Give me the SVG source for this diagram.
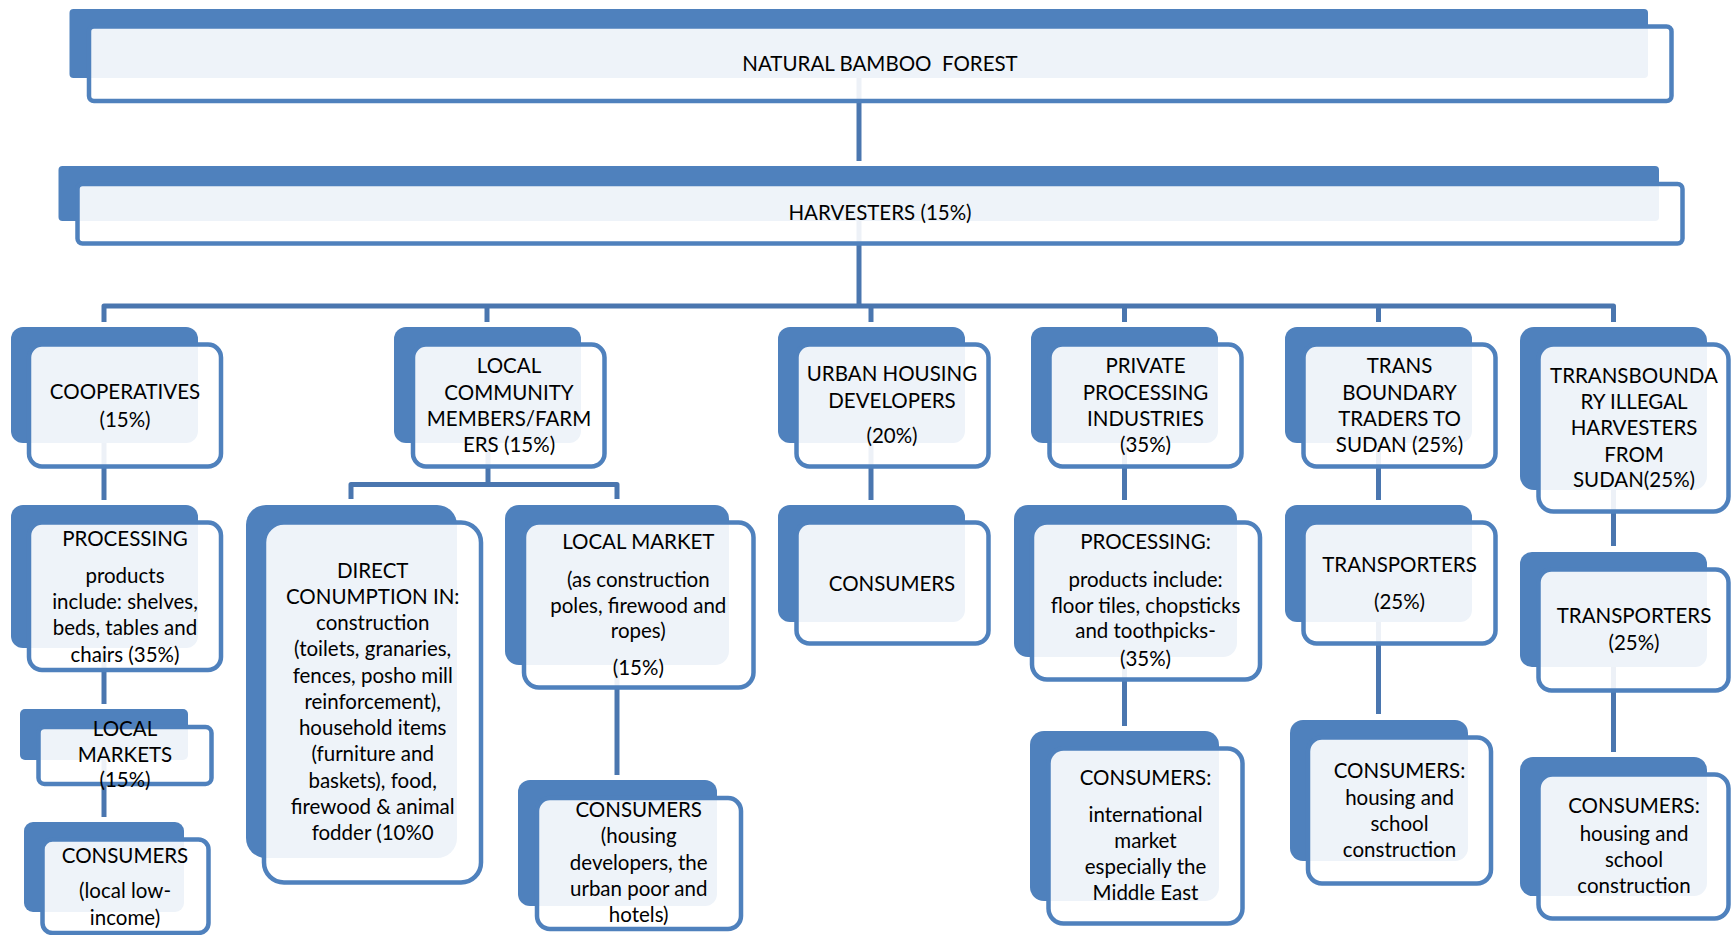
<svg xmlns="http://www.w3.org/2000/svg" width="1731" height="935" viewBox="0 0 1731 935">
<style>
.bk{fill:#4F81BD}
.fr{fill:#FFFFFF;fill-opacity:0.9;stroke:#4F81BD;stroke-width:4.5}
.t{font-family:Lato,"Open Sans","Liberation Sans",sans-serif;font-size:20.5px;fill:#000;text-anchor:middle}
.c{stroke:#4A76AF;stroke-width:5;fill:none;stroke-linejoin:round}
</style>
<rect width="1731" height="935" fill="#FFFFFF"/>
<g id="connectors">
<path class="c" d="M859 78 V161"/>
<path class="c" d="M859 221 V306"/>
<path class="c" d="M104 322 V306 H1613.5 V322"/>
<path class="c" d="M487 306 V322"/>
<path class="c" d="M871 306 V322"/>
<path class="c" d="M1124.5 306 V322"/>
<path class="c" d="M1378.5 306 V322"/>
<path class="c" d="M104 443 V500"/>
<path class="c" d="M104 648 V704"/>
<path class="c" d="M104 760 V817"/>
<path class="c" d="M488 443 V484.5"/>
<path class="c" d="M351 499 V484.5 H617 V499"/>
<path class="c" d="M617 665 V775"/>
<path class="c" d="M871 443 V500"/>
<path class="c" d="M1124.5 443 V500"/>
<path class="c" d="M1124.5 657 V726"/>
<path class="c" d="M1378.5 443 V500"/>
<path class="c" d="M1378.5 622 V714"/>
<path class="c" d="M1613.5 490 V546"/>
<path class="c" d="M1613.5 667 V752"/>
</g>
<g id="n_forest">
<rect class="bk" x="69.5" y="9" width="1578.5" height="69" rx="4"/>
<rect class="fr" x="89" y="26.5" width="1582.5" height="74.5" rx="5"/>
<text class="t" x="880" y="70.5">NATURAL BAMBOO&#160; FOREST</text>
</g>
<g id="n_harvesters">
<rect class="bk" x="58.5" y="166" width="1600.5" height="55" rx="4"/>
<rect class="fr" x="77.5" y="184" width="1605" height="59.5" rx="5"/>
<text class="t" x="880" y="220">HARVESTERS (15%)</text>
</g>
<g id="n_coop">
<rect class="bk" x="11" y="327" width="187" height="116" rx="12"/>
<rect class="fr" x="29" y="344.5" width="192" height="122" rx="13"/>
<text class="t"><tspan x="125" y="399.3">COOPERATIVES</tspan><tspan x="125" y="426.7">(15%)</tspan></text>
</g>
<g id="n_proc_left">
<rect class="bk" x="11" y="505" width="187" height="143" rx="12"/>
<rect class="fr" x="29" y="522.5" width="192" height="147.5" rx="13"/>
<text class="t"><tspan x="125" y="546">PROCESSING</tspan><tspan x="125" y="583.3">products</tspan><tspan x="125" y="609">include: shelves,</tspan><tspan x="125" y="635">beds, tables and</tspan><tspan x="125" y="661.7">chairs (35%)</tspan></text>
</g>
<g id="n_localmarkets">
<rect class="bk" x="20" y="709" width="168" height="51" rx="5"/>
<rect class="fr" x="38.5" y="727" width="173" height="57" rx="6"/>
<text class="t"><tspan x="125" y="736">LOCAL</tspan><tspan x="125" y="761.7">MARKETS</tspan><tspan x="125" y="787.3">(15%)</tspan></text>
</g>
<g id="n_consumers_low">
<rect class="bk" x="24" y="822" width="160" height="90" rx="9"/>
<rect class="fr" x="42.5" y="839.5" width="166" height="93.5" rx="10"/>
<text class="t"><tspan x="125" y="863">CONSUMERS</tspan><tspan x="125" y="898">(local low-</tspan><tspan x="125" y="925">income)</tspan></text>
</g>
<g id="n_localcomm">
<rect class="bk" x="394" y="327" width="187" height="116" rx="12"/>
<rect class="fr" x="413" y="344.5" width="191.5" height="122" rx="13"/>
<text class="t"><tspan x="509" y="373.3">LOCAL</tspan><tspan x="509" y="400">COMMUNITY</tspan><tspan x="509" y="426">MEMBERS/FARM</tspan><tspan x="509" y="451.7">ERS (15%)</tspan></text>
</g>
<g id="n_direct">
<rect class="bk" x="246" y="505" width="211" height="353" rx="20"/>
<rect class="fr" x="264" y="522.5" width="217" height="360" rx="20"/>
<text class="t"><tspan x="372.7" y="577.7">DIRECT</tspan><tspan x="372.7" y="603.9">CONUMPTION IN:</tspan><tspan x="372.7" y="630.1">construction</tspan><tspan x="372.7" y="656.4">(toilets, granaries,</tspan><tspan x="372.7" y="682.6">fences, posho mill</tspan><tspan x="372.7" y="708.8">reinforcement),</tspan><tspan x="372.7" y="735">household items</tspan><tspan x="372.7" y="761.3">(furniture and</tspan><tspan x="372.7" y="787.5">baskets), food,</tspan><tspan x="372.7" y="813.7">firewood &amp; animal</tspan><tspan x="372.7" y="840">fodder (10%0</tspan></text>
</g>
<g id="n_localmarket">
<rect class="bk" x="505" y="505" width="224" height="160" rx="14"/>
<rect class="fr" x="524" y="522.5" width="229.5" height="165" rx="15"/>
<text class="t"><tspan x="638.3" y="549.3">LOCAL MARKET</tspan><tspan x="638.3" y="586.7">(as construction</tspan><tspan x="638.3" y="612.7">poles, firewood and</tspan><tspan x="638.3" y="638.3">ropes)</tspan><tspan x="638.3" y="675">(15%)</tspan></text>
</g>
<g id="n_consumers_hd">
<rect class="bk" x="518" y="780" width="199" height="126" rx="12"/>
<rect class="fr" x="537" y="798" width="204" height="131" rx="13"/>
<text class="t"><tspan x="638.7" y="816.7">CONSUMERS</tspan><tspan x="638.7" y="843">(housing</tspan><tspan x="638.7" y="869.7">developers, the</tspan><tspan x="638.7" y="896">urban poor and</tspan><tspan x="638.7" y="922">hotels)</tspan></text>
</g>
<g id="n_urban">
<rect class="bk" x="778" y="327" width="187" height="116" rx="12"/>
<rect class="fr" x="796.5" y="344.5" width="192" height="122" rx="13"/>
<text class="t"><tspan x="892" y="380.7">URBAN HOUSING</tspan><tspan x="892" y="407.7">DEVELOPERS</tspan><tspan x="892" y="443">(20%)</tspan></text>
</g>
<g id="n_consumers_urban">
<rect class="bk" x="778" y="505" width="187" height="117" rx="12"/>
<rect class="fr" x="796.5" y="522.5" width="192" height="121" rx="13"/>
<text class="t" x="892" y="590.7">CONSUMERS</text>
</g>
<g id="n_private">
<rect class="bk" x="1031" y="327" width="187" height="116" rx="12"/>
<rect class="fr" x="1049.5" y="344.5" width="192" height="122" rx="13"/>
<text class="t"><tspan x="1145.5" y="373.3">PRIVATE</tspan><tspan x="1145.5" y="400">PROCESSING</tspan><tspan x="1145.5" y="426">INDUSTRIES</tspan><tspan x="1145.5" y="451.7">(35%)</tspan></text>
</g>
<g id="n_proc_right">
<rect class="bk" x="1014" y="505" width="223" height="152" rx="14"/>
<rect class="fr" x="1032" y="522.5" width="228" height="157" rx="15"/>
<text class="t"><tspan x="1145.5" y="549.3">PROCESSING:</tspan><tspan x="1145.5" y="586.7">products include:</tspan><tspan x="1145.5" y="612.7">floor tiles, chopsticks</tspan><tspan x="1145.5" y="638.3">and toothpicks-</tspan><tspan x="1145.5" y="666">(35%)</tspan></text>
</g>
<g id="n_consumers_intl">
<rect class="bk" x="1030" y="731" width="189" height="170" rx="14"/>
<rect class="fr" x="1048.5" y="748.5" width="194" height="175" rx="15"/>
<text class="t"><tspan x="1145.5" y="785">CONSUMERS:</tspan><tspan x="1145.5" y="821.7">international</tspan><tspan x="1145.5" y="847.7">market</tspan><tspan x="1145.5" y="874">especially the</tspan><tspan x="1145.5" y="900">Middle East</tspan></text>
</g>
<g id="n_trans">
<rect class="bk" x="1285" y="327" width="187" height="116" rx="12"/>
<rect class="fr" x="1303.5" y="344.5" width="192" height="122" rx="13"/>
<text class="t"><tspan x="1399.5" y="373.3">TRANS</tspan><tspan x="1399.5" y="400">BOUNDARY</tspan><tspan x="1399.5" y="426">TRADERS TO</tspan><tspan x="1399.5" y="451.7">SUDAN (25%)</tspan></text>
</g>
<g id="n_transporters_mid">
<rect class="bk" x="1285" y="505" width="187" height="117" rx="12"/>
<rect class="fr" x="1303.5" y="522.5" width="192" height="121" rx="13"/>
<text class="t"><tspan x="1399.5" y="571.7">TRANSPORTERS</tspan><tspan x="1399.5" y="609.3">(25%)</tspan></text>
</g>
<g id="n_consumers_mid">
<rect class="bk" x="1290" y="720" width="178" height="141" rx="13"/>
<rect class="fr" x="1308" y="737.5" width="183" height="146" rx="14"/>
<text class="t"><tspan x="1399.5" y="777.7">CONSUMERS:</tspan><tspan x="1399.5" y="805">housing and</tspan><tspan x="1399.5" y="831">school</tspan><tspan x="1399.5" y="856.7">construction</tspan></text>
</g>
<g id="n_illegal">
<rect class="bk" x="1520" y="327" width="187" height="163" rx="14"/>
<rect class="fr" x="1538.5" y="344.5" width="190" height="167" rx="15"/>
<text class="t"><tspan x="1634" y="382.7">TRRANSBOUNDA</tspan><tspan x="1634" y="409">RY ILLEGAL</tspan><tspan x="1634" y="435">HARVESTERS</tspan><tspan x="1634" y="461.7">FROM</tspan><tspan x="1634" y="487.3">SUDAN(25%)</tspan></text>
</g>
<g id="n_transporters_right">
<rect class="bk" x="1520" y="552" width="187" height="115" rx="12"/>
<rect class="fr" x="1538.5" y="569.5" width="190" height="121" rx="13"/>
<text class="t"><tspan x="1634" y="623.3">TRANSPORTERS</tspan><tspan x="1634" y="650">(25%)</tspan></text>
</g>
<g id="n_consumers_right">
<rect class="bk" x="1520" y="757" width="187" height="139" rx="13"/>
<rect class="fr" x="1538.5" y="774.5" width="190" height="144" rx="14"/>
<text class="t"><tspan x="1634" y="813.3">CONSUMERS:</tspan><tspan x="1634" y="840.7">housing and</tspan><tspan x="1634" y="866.7">school</tspan><tspan x="1634" y="892.7">construction</tspan></text>
</g>
</svg>
